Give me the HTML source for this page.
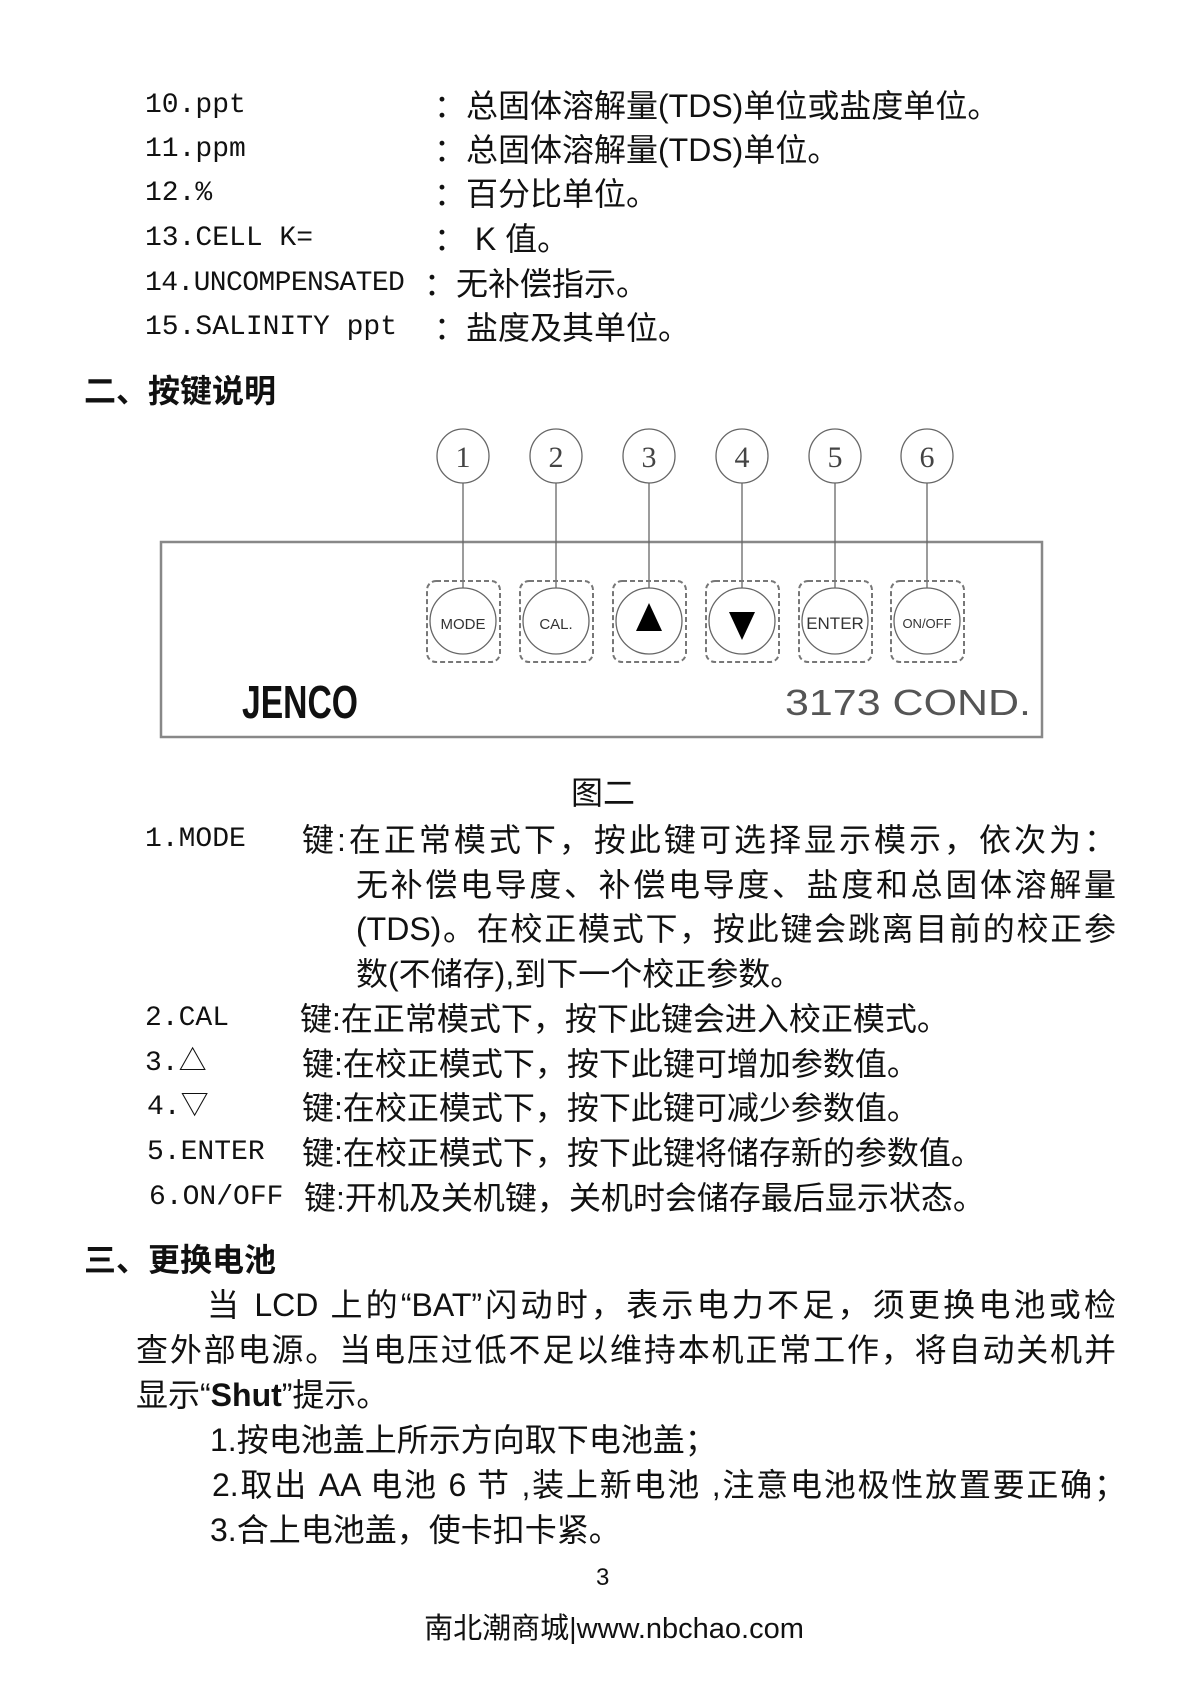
<!DOCTYPE html>
<html><head><meta charset="utf-8"><style>
body{margin:0;background:#fff;}
#p{position:relative;width:1200px;height:1700px;overflow:hidden;background:#fff;color:#111;font-family:"Liberation Sans","Noto Sans CJK SC",sans-serif;}
.t{position:absolute;white-space:nowrap;font-size:32px;line-height:44px;height:44px;}
.m{font-family:"Liberation Mono","Noto Sans CJK SC",monospace;font-size:28px;}
.j{text-align:justify;text-align-last:justify;}
.h{font-weight:bold;font-size:32px;}
</style></head><body><div id="p">
<div class="t m" style="left:145px;top:84px">10.ppt</div><div class="t" style="left:434px;top:84px">：总固体溶解量(TDS)单位或盐度单位。</div>
<div class="t m" style="left:145px;top:128px">11.ppm</div><div class="t" style="left:434px;top:128px">：总固体溶解量(TDS)单位。</div>
<div class="t m" style="left:145px;top:172px">12.%</div><div class="t" style="left:434px;top:172px">：百分比单位。</div>
<div class="t m" style="left:145px;top:217px">13.CELL K=</div><div class="t" style="left:434px;top:217px">：&nbsp;K 值。</div>
<div class="t m" style="left:145px;top:262px;letter-spacing:-0.6px">14.UNCOMPENSATED</div><div class="t" style="left:424px;top:262px">：无补偿指示。</div>
<div class="t m" style="left:145px;top:306px">15.SALINITY ppt</div><div class="t" style="left:434px;top:306px">：盐度及其单位。</div>
<div class="t h" style="left:84px;top:369px">二、按键说明</div>

<svg style="position:absolute;left:0;top:0" width="1200" height="1700">
<rect x="161" y="542" width="881" height="195" fill="none" stroke="#888" stroke-width="2.5"/>
<g font-family="Liberation Serif,serif" font-size="30" fill="#444" text-anchor="middle" stroke="#666">
<g fill="none" stroke-width="1.3">
<ellipse cx="463" cy="456" rx="26" ry="27"/><ellipse cx="556" cy="456" rx="26" ry="27"/><ellipse cx="649" cy="456" rx="26" ry="27"/><ellipse cx="742" cy="456" rx="26" ry="27"/><ellipse cx="835" cy="456" rx="26" ry="27"/><ellipse cx="927" cy="456" rx="26" ry="27"/>
<path d="M463 483V588M556 483V588M649 483V588M742 483V588M835 483V588M927 483V588"/>
<g stroke="#777" stroke-dasharray="5,3" stroke-width="2">
<rect x="427" y="581" width="73" height="81" rx="9"/><rect x="520" y="581" width="73" height="81" rx="9"/><rect x="613" y="581" width="73" height="81" rx="9"/><rect x="706" y="581" width="73" height="81" rx="9"/><rect x="799" y="581" width="73" height="81" rx="9"/><rect x="891" y="581" width="73" height="81" rx="9"/>
</g>
<ellipse cx="463" cy="621" rx="33" ry="33"/><ellipse cx="556" cy="621" rx="33" ry="33"/><ellipse cx="649" cy="621" rx="33" ry="33"/><ellipse cx="742" cy="621" rx="33" ry="33"/><ellipse cx="835" cy="621" rx="33" ry="33"/><ellipse cx="927" cy="621" rx="33" ry="33"/>
</g>
<g stroke="none"><text x="463" y="467">1</text><text x="556" y="467">2</text><text x="649" y="467">3</text><text x="742" y="467">4</text><text x="835" y="467">5</text><text x="927" y="467">6</text></g>
</g>
<g font-family="Liberation Sans,sans-serif" font-size="15" fill="#333" text-anchor="middle">
<text x="463" y="629">MODE</text><text x="556" y="629">CAL.</text><text x="835" y="629" font-size="17">ENTER</text><text x="927" y="628" font-size="13">ON/OFF</text>
</g>
<path d="M649 603L636 631H662Z" fill="#000"/><path d="M742 640L729 612H755Z" fill="#000"/>
<text x="242" y="718" font-family="Liberation Sans Narrow,Liberation Sans,sans-serif" font-size="46" font-weight="bold" fill="#111" textLength="116" lengthAdjust="spacingAndGlyphs">JENCO</text>
<text x="785" y="715" font-family="Liberation Sans,sans-serif" font-size="36" fill="#555" textLength="246" lengthAdjust="spacingAndGlyphs">3173  COND.</text>
</svg>
<div class="t" style="left:571px;top:771px">图二</div>

<div class="t m" style="left:145px;top:818px">1.MODE</div><div class="t j" style="left:302px;top:818px;width:814px">键:在正常模式下，按此键可选择显示模示，依次为：</div>
<div class="t j" style="left:356px;top:863px;width:760px">无补偿电导度、补偿电导度、盐度和总固体溶解量</div>
<div class="t j" style="left:356px;top:907px;width:760px">(TDS)。在校正模式下，按此键会跳离目前的校正参</div>
<div class="t" style="left:356px;top:952px">数(不储存),到下一个校正参数。</div>
<div class="t m" style="left:145px;top:997px">2.CAL</div><div class="t" style="left:300px;top:997px">键:在正常模式下，按下此键会进入校正模式。</div>
<div class="t m" style="left:145px;top:1042px">3.△</div><div class="t" style="left:302px;top:1042px">键:在校正模式下，按下此键可增加参数值。</div>
<div class="t m" style="left:147px;top:1086px">4.▽</div><div class="t" style="left:302px;top:1086px">键:在校正模式下，按下此键可减少参数值。</div>
<div class="t m" style="left:147px;top:1131px">5.ENTER</div><div class="t" style="left:302px;top:1131px">键:在校正模式下，按下此键将储存新的参数值。</div>
<div class="t m" style="left:149px;top:1176px">6.ON/OFF</div><div class="t" style="left:304px;top:1176px">键:开机及关机键，关机时会储存最后显示状态。</div>

<div class="t h" style="left:84px;top:1238px">三、更换电池</div>
<div class="t j" style="left:207px;top:1283px;width:909px">当 LCD 上的“BAT”闪动时，表示电力不足，须更换电池或检</div>
<div class="t j" style="left:136px;top:1328px;width:980px">查外部电源。当电压过低不足以维持本机正常工作，将自动关机并</div>
<div class="t" style="left:136px;top:1373px">显示“<b>Shut</b>”提示。</div>
<div class="t" style="left:210px;top:1418px">1.按电池盖上所示方向取下电池盖；</div>
<div class="t j" style="left:212px;top:1463px;width:914px">2.取出 AA 电池 6 节 ,装上新电池 ,注意电池极性放置要正确；</div>
<div class="t" style="left:210px;top:1508px">3.合上电池盖，使卡扣卡紧。</div>
<div class="t" style="left:596px;top:1556px;font-size:24px">3</div>
<div class="t" style="left:0;width:1228px;text-align:center;top:1607px;font-size:29px">南北潮商城|www.nbchao.com</div>
</div></body></html>
